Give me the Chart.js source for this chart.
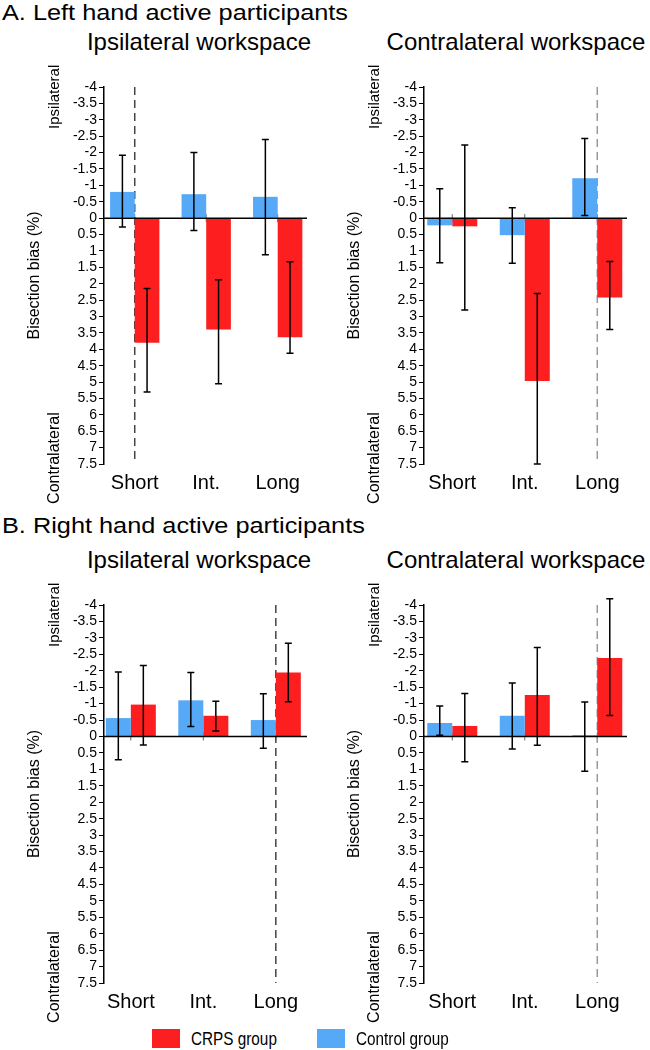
<!DOCTYPE html>
<html>
<head>
<meta charset="utf-8">
<script src="https://cdn.jsdelivr.net/npm/chart.js@4.4.1/dist/chart.umd.min.js"></script>
<style>
  body { margin: 0; background: #fff; font-family: "Liberation Sans", Arial, sans-serif; }
  #page { position: relative; width: 650px; height: 1050px; overflow: hidden; background: #fff; }
  .box { position: absolute; }
  .title { position: absolute; font-size: 22px; line-height: 22px; color: #000; white-space: nowrap;
           transform: scaleX(1.15); transform-origin: left top; }
  .sub { position: absolute; width: 400px; text-align: center; font-size: 24px; line-height: 24px; color: #000; white-space: nowrap; }
  .sw { position: absolute; width: 28px; height: 19px; }
  .lt { position: absolute; font-size: 18px; line-height: 18px; color: #000; white-space: nowrap;
        transform: scaleX(0.85); transform-origin: left top; }
</style>
</head>
<body>
<div id="page">
  <div class="title" style="left:2px; top:2px;">A. Left hand active participants</div>
  <div class="sub" style="left:-1px; top:30px;">Ipsilateral workspace</div>
  <div class="sub" style="left:316px; top:30px;">Contralateral workspace</div>
  <div class="box" style="left:0px; top:60px; width:325px; height:446px;"><canvas id="aLeft"></canvas></div>
  <div class="box" style="left:320px; top:60px; width:325px; height:446px;"><canvas id="aRight"></canvas></div>

  <div class="title" style="left:2px; top:515px;">B. Right hand active participants</div>
  <div class="sub" style="left:-1px; top:548px;">Ipsilateral workspace</div>
  <div class="sub" style="left:316px; top:548px;">Contralateral workspace</div>
  <div class="box" style="left:0px; top:580px; width:325px; height:445px;"><canvas id="bLeft"></canvas></div>
  <div class="box" style="left:320px; top:580px; width:325px; height:445px;"><canvas id="bRight"></canvas></div>

  <div class="sw" style="left:152px; top:1029px; background:#fd1f1f;"></div>
  <div class="lt" style="left:191px; top:1030px;">CRPS group</div>
  <div class="sw" style="left:317px; top:1029px; background:#56a9f7;"></div>
  <div class="lt" style="left:356px; top:1030px;">Control group</div>
</div>

<script>
const categories = ['Short', 'Int.', 'Long'];

// A. left hand, ipsilateral workspace
const aLeftControl = [-0.8, -0.73, -0.65];
const aLeftControlMin = [-1.92, -2.0, -2.4];
const aLeftControlMax = [0.27, 0.38, 1.12];
const aLeftCrps = [3.8, 3.4, 3.63];
const aLeftCrpsMin = [2.15, 1.88, 1.33];
const aLeftCrpsMax = [5.3, 5.05, 4.12];

// A. left hand, contralateral workspace
const aRightControl = [0.22, 0.52, -1.22];
const aRightControlMin = [-0.9, -0.32, -2.43];
const aRightControlMax = [1.36, 1.38, -0.08];
const aRightCrps = [0.25, 4.97, 2.42];
const aRightCrpsMin = [-2.23, 2.3, 1.32];
const aRightCrpsMax = [2.8, 7.5, 3.4];

// B. right hand, ipsilateral workspace
const bLeftControl = [-0.56, -1.1, -0.5];
const bLeftControlMin = [-1.96, -1.95, -1.3];
const bLeftControlMax = [0.71, -0.3, 0.36];
const bLeftCrps = [-0.97, -0.63, -1.95];
const bLeftCrpsMin = [-2.16, -1.07, -2.84];
const bLeftCrpsMax = [0.26, -0.17, -1.06];

// B. right hand, contralateral workspace
const bRightControl = [-0.41, -0.63, -0.04];
const bRightControlMin = [-0.93, -1.63, -1.05];
const bRightControlMax = [-0.04, 0.38, 1.06];
const bRightCrps = [-0.32, -1.26, -2.39];
const bRightCrpsMin = [-1.31, -2.71, -4.19];
const bRightCrpsMax = [0.77, 0.27, -0.64];

const yMin = -4;
const yMax = 7.5;
const yStep = 0.5;

const RED = '#fd1f1f';
const BLUE = '#56a9f7';
const FONT = '"Liberation Sans", Arial, sans-serif';

// dashed line, zero line, error bars, side titles
const panelExtras = {
    id: 'panelExtras',
    beforeDatasetsDraw(chart, args, opts) {
        const {ctx, chartArea: a, scales: {x, y}} = chart;
        const y0 = y.getPixelForValue(0);
        ctx.save();
        // little marks on the zero line
        ctx.strokeStyle = '#666';
        ctx.lineWidth = 1;
        categories.forEach((c, i) => {
            const px = x.getPixelForValue(i);
            ctx.beginPath();
            ctx.moveTo(px, y0 - 4);
            ctx.lineTo(px, y0 + 4);
            ctx.stroke();
        });
        // dashed vertical line
        const dx = x.getPixelForValue(opts.dashedAt);
        ctx.strokeStyle = opts.dashColor;
        ctx.lineWidth = 1.5;
        ctx.setLineDash([8, 5]);
        ctx.beginPath();
        ctx.moveTo(dx, a.top);
        ctx.lineTo(dx, a.bottom);
        ctx.stroke();
        ctx.restore();
    },
    afterDatasetsDraw(chart) {
        const {ctx, chartArea: a, scales: {y}} = chart;
        ctx.save();
        ctx.strokeStyle = '#000';
        ctx.lineWidth = 1.5;
        const y0 = y.getPixelForValue(0);
        ctx.beginPath();
        ctx.moveTo(a.left, y0);
        ctx.lineTo(a.right, y0);
        ctx.stroke();

        chart.data.datasets.forEach((ds, di) => {
            const meta = chart.getDatasetMeta(di);
            meta.data.forEach((bar, i) => {
                const t = y.getPixelForValue(ds.errMin[i]);
                const b = y.getPixelForValue(ds.errMax[i]);
                ctx.beginPath();
                ctx.moveTo(bar.x, t);
                ctx.lineTo(bar.x, b);
                ctx.moveTo(bar.x - 3.5, t);
                ctx.lineTo(bar.x + 3.5, t);
                ctx.moveTo(bar.x - 3.5, b);
                ctx.lineTo(bar.x + 3.5, b);
                ctx.stroke();
            });
        });
        ctx.restore();
    },
    afterDraw(chart) {
        const {ctx, chartArea: a, scales: {y}} = chart;
        ctx.save();
        ctx.fillStyle = '#000';
        ctx.textAlign = 'center';
        ctx.textBaseline = 'middle';
        const side = [
            ['Ipsilateral', 49, -3.7, 15],
            ['Bisection bias (%)', 69, 1.75, 16],
            ['Contralateral', 49, 7.32, 16]
        ];
        side.forEach(([txt, off, v, size]) => {
            ctx.save();
            ctx.font = size + 'px ' + FONT;
            ctx.translate(a.left - off, y.getPixelForValue(v));
            ctx.rotate(-Math.PI / 2);
            ctx.fillText(txt, 0, 0);
            ctx.restore();
        });
        ctx.restore();
    }
};

function pts(vals) {
    return vals.map((v, i) => ({x: i, y: v}));
}

function buildPanel(id, control, controlMin, controlMax, crps, crpsMin, crpsMax, look) {
    const ctx = document.getElementById(id).getContext('2d');
    return new Chart(ctx, {
        type: 'bar',
        data: {
            datasets: [
                {
                    label: 'Control group',
                    backgroundColor: BLUE,
                    borderWidth: 0,
                    data: pts(control),
                    errMin: controlMin,
                    errMax: controlMax
                },
                {
                    label: 'CRPS group',
                    backgroundColor: RED,
                    borderWidth: 0,
                    data: pts(crps),
                    errMin: crpsMin,
                    errMax: crpsMax
                }
            ]
        },
        options: {
            responsive: true,
            maintainAspectRatio: false,
            animation: false,
            categoryPercentage: 0.69,
            barPercentage: 1.0,
            layout: { padding: { left: 0, right: 18, top: look.padTop, bottom: 0 } },
            plugins: {
                legend: { display: false },
                tooltip: { enabled: false },
                panelExtras: { dashedAt: look.dashedAt, dashColor: look.dashColor }
            },
            scales: {
                x: {
                    type: 'linear',
                    min: look.xMin,
                    max: look.xMax,
                    offset: false,
                    grid: { display: false },
                    border: { display: false },
                    afterBuildTicks: (s) => { s.ticks = categories.map((c, i) => ({value: i})); },
                    afterFit: (s) => { s.height = 42; },
                    ticks: {
                        autoSkip: false,
                        maxRotation: 0,
                        padding: -1,
                        color: '#000',
                        font: { family: FONT, size: 20 },
                        callback: (v) => categories[v]
                    }
                },
                y: {
                    reverse: true,
                    min: yMin,
                    max: yMax,
                    afterFit: (s) => { s.width = 104; },
                    grid: { display: true, drawOnChartArea: false, drawTicks: true, tickLength: 5, color: '#000', lineWidth: 1 },
                    border: { display: true, color: '#000', width: 1.5 },
                    ticks: {
                        stepSize: yStep,
                        autoSkip: false,
                        padding: 2,
                        color: '#000',
                        font: { family: FONT, size: 14 },
                        callback: (v) => String(Math.round(v * 10) / 10)
                    }
                }
            }
        },
        plugins: [panelExtras]
    });
}

buildPanel('aLeft', aLeftControl, aLeftControlMin, aLeftControlMax, aLeftCrps, aLeftCrpsMin, aLeftCrpsMax,
    { dashedAt: 0, dashColor: '#444', padTop: 27, xMin: -0.43, xMax: 2.41 });
buildPanel('aRight', aRightControl, aRightControlMin, aRightControlMax, aRightCrps, aRightCrpsMin, aRightCrpsMax,
    { dashedAt: 2, dashColor: '#999', padTop: 27, xMin: -0.39, xMax: 2.41 });
buildPanel('bLeft', bLeftControl, bLeftControlMin, bLeftControlMax, bLeftCrps, bLeftCrpsMin, bLeftCrpsMax,
    { dashedAt: 2, dashColor: '#444', padTop: 25, xMin: -0.37, xMax: 2.43 });
buildPanel('bRight', bRightControl, bRightControlMin, bRightControlMax, bRightCrps, bRightCrpsMin, bRightCrpsMax,
    { dashedAt: 2, dashColor: '#999', padTop: 25, xMin: -0.39, xMax: 2.41 });
</script>
</body>
</html>
